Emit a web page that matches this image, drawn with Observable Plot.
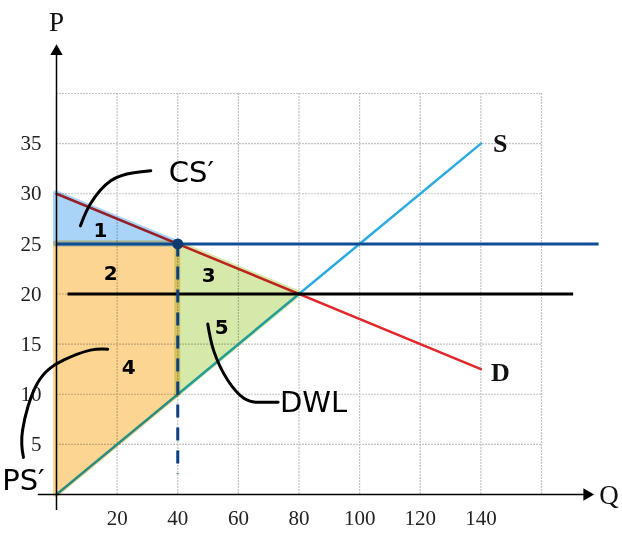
<!DOCTYPE html>
<html><head><meta charset="utf-8">
<script src="https://cdn.jsdelivr.net/npm/d3@7"></script>
<script src="https://cdn.jsdelivr.net/npm/@observablehq/plot@0.6"></script>
<style>body{margin:0;background:#fff}</style>
</head><body><div id="chart"></div>
<script>
// ---- data ----
const xTicks = [20, 40, 60, 80, 100, 120, 140];
const yTicks = [5, 10, 15, 20, 25, 30, 35];
const gridX = [0, 20, 40, 60, 80, 100, 120, 140, 160];
const gridY = [0, 5, 10, 15, 20, 25, 30, 35, 40];
const supply = [{q: 0, p: 0}, {q: 140, p: 35}];
const demand = [{q: 0, p: 30}, {q: 140, p: 12.5}];
const floorLine = [{p: 25, q1: 0, q2: 179}];
const eqLine = [{p: 20, q1: 3.8, q2: 170.6}];
const quotaLine = [{q: 40, p1: 25, p2: 2}];
const quotaPoint = [{q: 40, p: 25}];
const csArea = [{q: 0, lo: 25, hi: 30}, {q: 40, lo: 25, hi: 25}];
const psArea = [{q: 0, lo: 0, hi: 25}, {q: 40, lo: 10, hi: 25}];
const dwlArea = [{q: 40, lo: 10, hi: 25}, {q: 80, lo: 20, hi: 20}];
const curveLabels = [{q: 146.4, p: 35.0, t: "S"}, {q: 146.4, p: 12.2, t: "D"}];
const axisLabels = [{q: 0, p: 47.1, t: "P"}, {q: 182.3, p: -0.1, t: "Q"}];
const xAxisLine = [{q1: -6, q2: 175, p: 0}];
const yAxisLine = [{q: 0, p1: -1.6, p2: 44}];
const arrowHeads = [{q: 0, p: 44.2, rot: 0}, {q: 175, p: 0, rot: 90}];
const areaNumbers = [
  {q: 14.5, p: 26.3, t: "1"}, {q: 17.9, p: 22.0, t: "2"}, {q: 50.2, p: 21.8, t: "3"},
  {q: 23.8, p: 12.7, t: "4"}, {q: 54.5, p: 16.6, t: "5"}
];
const noteLabels = [{q: 44.5, p: 32.1, t: "CS\u2032"}, {q: 84.8, p: 9.2, t: "DWL"}, {q: -10.9, p: 1.4, t: "PS\u2032"}];
const csPointer = [{q: 7.9, p: 26.8}, {q: 11.2, p: 29.0}, {q: 17.9, p: 31.3}, {q: 25.5, p: 32.1}, {q: 31.1, p: 32.3}];
const dwlPointer = [{q: 49.9, p: 17.0}, {q: 51.9, p: 14.3}, {q: 56.5, p: 11.4}, {q: 61.8, p: 9.6}, {q: 66.4, p: 9.2}, {q: 73.1, p: 9.2}];
const psPointer = [{q: -10.9, p: 3.7}, {q: -11.2, p: 6.4}, {q: -6.3, p: 11.1}, {q: 2.3, p: 13.4}, {q: 11.2, p: 14.4}, {q: 16.9, p: 14.5}];

const serif = "Liberation Serif, Times New Roman, serif";
const hand = "DejaVu Sans, sans-serif";
const csFill = "#a9d3f7", psFill = "#fcd592", dwlFill = "#d5e9aa";

const chart = Plot.plot({
  width: 622, height: 534,
  marginLeft: 56, marginRight: 81, marginTop: 93, marginBottom: 40,
  x: {domain: [0, 160], axis: null},
  y: {domain: [0, 40], axis: null},
  style: {fontFamily: serif, background: "#fff", overflow: "visible"},
  marks: [
    Plot.ruleX(gridX, {stroke: "#c4c4c4", strokeWidth: 1.2, strokeDasharray: "2,1"}),
    Plot.ruleY(gridY, {stroke: "#c4c4c4", strokeWidth: 1.2, strokeDasharray: "2,1"}),
    Plot.line(supply, {x: "q", y: "p", stroke: "#29aae1", strokeWidth: 2.5}),
    Plot.line(demand, {x: "q", y: "p", stroke: "#e3262a", strokeWidth: 2.5}),
    Plot.areaY(csArea, {x: "q", y1: "lo", y2: "hi", fill: csFill, stroke: csFill, strokeWidth: 6, strokeLinejoin: "round", mixBlendMode: "multiply"}),
    Plot.areaY(psArea, {x: "q", y1: "lo", y2: "hi", fill: psFill, stroke: psFill, strokeWidth: 6, strokeLinejoin: "round", mixBlendMode: "multiply"}),
    Plot.areaY(dwlArea, {x: "q", y1: "lo", y2: "hi", fill: dwlFill, stroke: dwlFill, strokeWidth: 6, strokeLinejoin: "round", mixBlendMode: "multiply"}),
    Plot.ruleY(floorLine, {y: "p", x1: "q1", x2: "q2", stroke: "#0f4c96", strokeWidth: 3}),
    Plot.ruleY(eqLine, {y: "p", x1: "q1", x2: "q2", stroke: "#000", strokeWidth: 3}),
    Plot.ruleX(quotaLine, {x: "q", y1: "p1", y2: "p2", stroke: "#0e3f80", strokeWidth: 3, strokeDasharray: "13,10"}),
    Plot.dot(quotaPoint, {x: "q", y: "p", r: 5.5, fill: "#0e3a6e"}),
    Plot.ruleY(xAxisLine, {y: "p", x1: "q1", x2: "q2", stroke: "#000", strokeWidth: 1.5}),
    Plot.ruleX(yAxisLine, {x: "q", y1: "p1", y2: "p2", stroke: "#000", strokeWidth: 1.5}),
    Plot.dot(arrowHeads, {x: "q", y: "p", symbol: "triangle", r: 4.6, fill: "#000", rotate: "rot"}),
    Plot.axisX(xTicks, {tickSize: 0, tickPadding: 16, fontSize: 21, label: null, fill: "#222"}),
    Plot.axisY(yTicks, {tickSize: 0, tickPadding: 15, fontSize: 21, label: null, fill: "#222"}),
    Plot.text(axisLabels, {x: "q", y: "p", text: "t", fontSize: 27, fill: "#111"}),
    Plot.text(curveLabels, {x: "q", y: "p", text: "t", fontSize: 26, fontWeight: "bold", fill: "#111"}),
    Plot.line(csPointer, {x: "q", y: "p", curve: "natural", stroke: "#000", strokeWidth: 3, strokeLinecap: "round"}),
    Plot.line(dwlPointer, {x: "q", y: "p", curve: "natural", stroke: "#000", strokeWidth: 3, strokeLinecap: "round"}),
    Plot.line(psPointer, {x: "q", y: "p", curve: "natural", stroke: "#000", strokeWidth: 3, strokeLinecap: "round"}),
    Plot.text(noteLabels, {x: "q", y: "p", text: "t", fontSize: 29, fontFamily: hand, fill: "#000"}),
    Plot.text(areaNumbers, {x: "q", y: "p", text: "t", fontSize: 20, fontFamily: hand, fontWeight: "bold", fill: "#000"})
  ]
});
document.getElementById("chart").appendChild(chart);
</script>
</body></html>
